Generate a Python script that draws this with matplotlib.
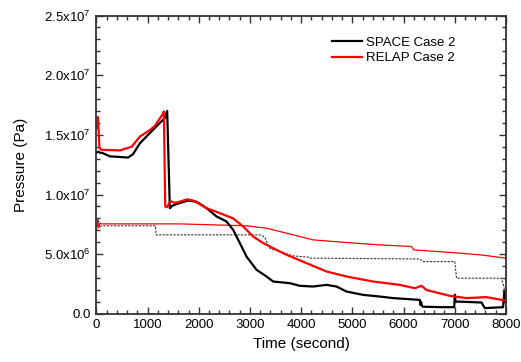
import matplotlib
matplotlib.use("Agg")
import matplotlib.pyplot as plt
from matplotlib.ticker import MultipleLocator

plt.rcParams['font.family'] = ['Liberation Sans', 'DejaVu Sans']
plt.rcParams['mathtext.fontset'] = 'custom'
plt.rcParams['mathtext.rm'] = 'Liberation Sans'
plt.rcParams['mathtext.it'] = 'Liberation Sans:italic'
plt.rcParams['mathtext.bf'] = 'Liberation Sans:bold'

# SPACE Case 2 (thick black)
space_t = [0, 40, 70, 110, 264, 450, 621, 719, 850, 1078, 1240, 1338, 1383, 1435, 1480,
           1566, 1793, 1957, 2152, 2348, 2543, 2672, 2803, 2933, 3129, 3324, 3453, 3779, 3975,
           4234, 4496, 4691, 4887, 5211, 5537, 5797, 6318, 6330, 6345, 6360, 6380, 6774, 6990,
           7002, 7020, 7067, 7523, 7588, 7945, 7970, 8000]
space_p = [13.5e6, 13.6e6, 13.5e6, 13.5e6, 13.2e6, 13.15e6, 13.1e6, 13.4e6, 14.3e6, 15.3e6,
           16.0e6, 16.4e6, 17.0e6, 8.86e6, 9.05e6, 9.2e6, 9.5e6, 9.4e6, 8.86e6, 8.16e6,
           7.74e6, 7.04e6, 5.93e6, 4.8e6, 3.69e6, 3.13e6, 2.71e6, 2.57e6, 2.35e6, 2.29e6, 2.43e6,
           2.29e6, 1.87e6, 1.59e6, 1.45e6, 1.32e6, 1.17e6, 0.75e6, 1.0e6, 0.65e6, 0.6e6, 0.56e6,
           0.56e6, 1.6e6, 1.0e6, 1.03e6, 0.95e6, 0.48e6, 0.56e6, 1.87e6, 1.0e6]

# RELAP Case 2 (thick red)
relap_t = [0, 30, 60, 100, 459, 687, 850, 1045, 1143, 1305, 1318, 1345, 1383, 1430, 1468,
           1530, 1630, 1774, 1891, 2152, 2412, 2672, 2867, 3063, 3250, 3500, 3715, 4105, 4496,
           4887, 5406, 5928, 6221, 6351, 6449, 6904, 7230, 7620, 7980]
relap_p = [15.6e6, 16.5e6, 13.9e6, 13.75e6, 13.7e6, 14.0e6, 14.86e6, 15.4e6, 15.76e6,
           16.8e6, 16.96e6, 9.0e6, 8.94e6, 9.35e6, 9.42e6, 9.3e6, 9.4e6, 9.6e6, 9.5e6, 8.86e6,
           8.44e6, 8.0e6, 7.32e6, 6.48e6, 5.95e6, 5.4e6, 4.95e6, 4.25e6, 3.55e6, 3.13e6,
           2.71e6, 2.43e6, 2.15e6, 2.35e6, 2.0e6, 1.51e6, 1.32e6, 1.4e6, 1.12e6]

# Thin red (RELAP secondary pressure)
relap2_t = [0, 25, 45, 70, 100, 1630, 2933, 3324, 3845, 4234, 4887, 5537, 6156, 6201, 6840,
            7490, 8000]
relap2_p = [7.04e6, 7.9e6, 7.2e6, 7.6e6, 7.54e6, 7.54e6, 7.38e6, 7.18e6, 6.62e6, 6.2e6,
            5.98e6, 5.78e6, 5.64e6, 5.36e6, 5.17e6, 4.95e6, 4.67e6]

# Thin dashed black (SPACE secondary pressure)
space2_t = [0, 35, 70, 100, 1150, 1170, 3190, 3290, 3324, 3389, 3584, 3845, 4140, 4170, 6318,
            6383, 7002, 7035, 7914, 7960, 8000]
space2_p = [7.0e6, 7.88e6, 7.3e6, 7.38e6, 7.38e6, 6.62e6, 6.62e6, 6.43e6, 6.06e6, 5.5e6,
            5.2e6, 4.86e6, 4.75e6, 4.67e6, 4.6e6, 4.38e6, 4.38e6, 2.99e6, 2.99e6, 2.3e6, 1.17e6]

x_ticks = [0, 1000, 2000, 3000, 4000, 5000, 6000, 7000, 8000]
y_ticks = [0.0, 5.0e6, 1.0e7, 1.5e7, 2.0e7, 2.5e7]
y_labels = ["0.0", "5.0x10$^{6}$", "1.0x10$^{7}$", "1.5x10$^{7}$", "2.0x10$^{7}$", "2.5x10$^{7}$"]

fig = plt.figure(figsize=(5.21, 3.62), dpi=100)
ax = fig.add_axes([0.185, 0.133, 0.786, 0.824])

ax.plot(space2_t, space2_p, color='#333333', lw=0.8, ls=(0, (2, 1.2)))
ax.plot(relap2_t, relap2_p, color='red', lw=0.9)
l1, = ax.plot(space_t, space_p, color='black', lw=1.6, label='SPACE Case 2')
l2, = ax.plot(relap_t, relap_p, color='red', lw=1.6, label='RELAP Case 2')

ax.set_xlim(0, 8000)
ax.set_ylim(0, 2.5e7)
ax.set_xticks(x_ticks)
ax.set_yticks(y_ticks)
ax.set_yticklabels(y_labels)
ax.xaxis.set_minor_locator(MultipleLocator(200))
ax.yaxis.set_minor_locator(MultipleLocator(1e6))
ax.tick_params(which='both', direction='in', top=True, right=True, labelsize=9.5,
               color='#333333', width=1.0)
ax.tick_params(which='major', length=5, pad=4)
ax.tick_params(which='minor', length=3)
for s in ax.spines.values():
    s.set_linewidth(1.3)
    s.set_color('#333333')

ax.set_xlabel('Time (second)', fontsize=11, labelpad=4)
ax.set_ylabel('Pressure (Pa)', fontsize=11, labelpad=12)

ax.legend(handles=[l1, l2], loc='upper right', bbox_to_anchor=(0.906, 0.97), frameon=False,
          fontsize=9.5, handlelength=2.3, handletextpad=0.3, labelspacing=0.25)

fig.savefig('out.png', dpi=100)
